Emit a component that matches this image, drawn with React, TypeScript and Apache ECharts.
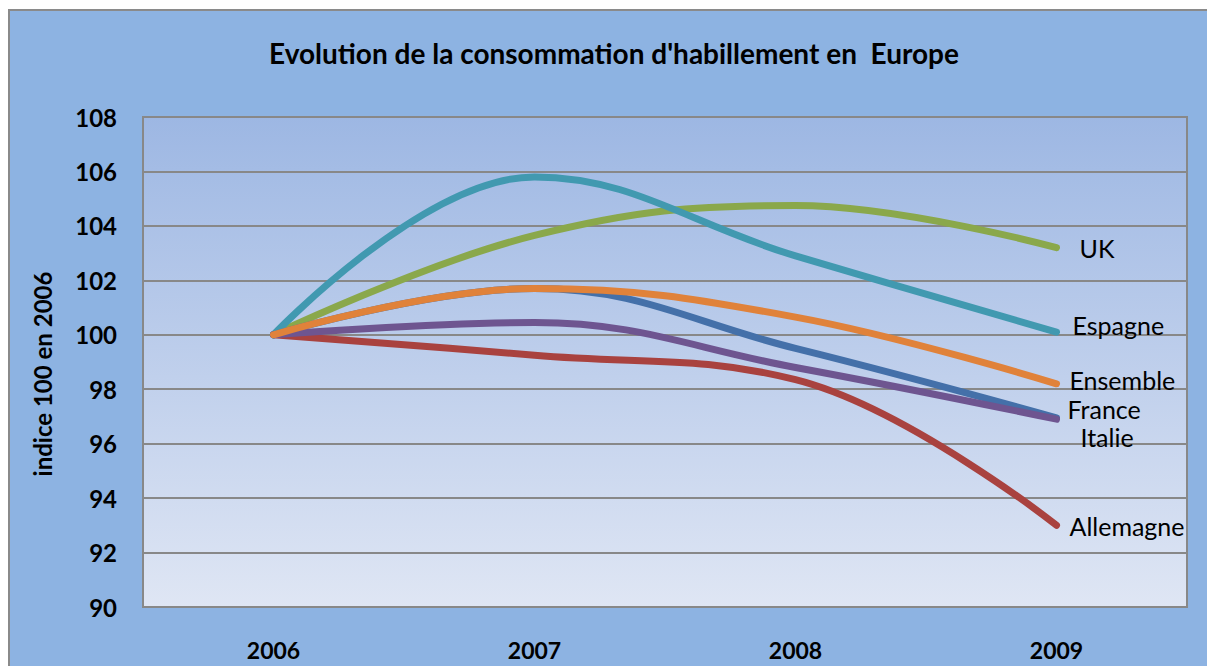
import React, { useEffect, useRef } from "react";
import * as echarts from "echarts";

const years = ["2006", "2007", "2008", "2009"];
const uk = [100, 103.65, 104.75, 103.2];
const espagne = [100, 105.8, 102.9, 100.1];
const ensemble = [100, 101.7, 100.65, 98.2];
const france = [100, 101.7, 99.5, 96.95];
const italie = [100, 100.45, 98.8, 96.9];
const allemagne = [100, 99.25, 98.35, 93.0];

const FONT = "Lato";

export default function App() {
  const ref = useRef<HTMLDivElement>(null);
  useEffect(() => {
    const chart = echarts.init(ref.current!, undefined, { renderer: "svg" });
    const mk = (name: string, data: number[], color: string, offset: [number, number], z: number) => ({
      name,
      type: "line",
      data,
      smooth: 0.4,
      symbol: "none",
      z,
      lineStyle: { color, width: 7, cap: "round", join: "round" },
      endLabel: {
        show: true,
        formatter: name,
        distance: 0,
        offset,
        color: "#000",
        fontFamily: FONT,
        fontSize: 25,
        lineHeight: 25,
        align: "left",
        verticalAlign: "middle",
      },
    });
    chart.setOption({
      animation: false,
      backgroundColor: "#ffffff",
      graphic: [
        {
          type: "rect",
          z: -10,
          shape: { x: 9, y: 10, width: 1220, height: 680 },
          style: { fill: "#8db3e2", stroke: "#8a8a8a", lineWidth: 2 },
          silent: true,
        },
        {
          type: "text",
          x: 42,
          y: 374,
          rotation: Math.PI / 2,
          style: {
            text: "indice 100 en 2006",
            fill: "#000",
            fontFamily: FONT,
            fontWeight: "bold",
            fontSize: 24,
            align: "center",
            verticalAlign: "middle",
          },
        },
      ],
      title: {
        text: "Evolution de la consommation d'habillement en  Europe",
        left: 609,
        top: 34,
        textAlign: "center",
        textStyle: { fontFamily: FONT, fontWeight: "bold", fontSize: 28, color: "#000" },
      },
      grid: {
        left: 143,
        top: 117,
        right: 20,
        bottom: 59,
        show: true,
        borderColor: "#888888",
        borderWidth: 2,
        backgroundColor: {
          type: "linear",
          x: 0,
          y: 0,
          x2: 0,
          y2: 1,
          colorStops: [
            { offset: 0, color: "#9db7e3" },
            { offset: 1, color: "#dfe6f4" },
          ],
        },
      },
      xAxis: {
        type: "category",
        data: years,
        boundaryGap: true,
        axisLine: { show: true, lineStyle: { color: "#888888", width: 2 } },
        axisTick: { show: false },
        axisLabel: { margin: 31, color: "#000", fontFamily: FONT, fontWeight: "bold", fontSize: 23 },
      },
      yAxis: {
        type: "value",
        min: 90,
        max: 108,
        interval: 2,
        axisLine: { show: true, lineStyle: { color: "#888888", width: 2 } },
        axisTick: { show: false },
        axisLabel: { margin: 26, color: "#000", fontFamily: FONT, fontWeight: "bold", fontSize: 24 },
        splitLine: { show: true, lineStyle: { color: "#888888", width: 2 } },
      },
      series: [
        mk("UK", uk, "#8aa84b", [23, 0], 3),
        mk("Espagne", espagne, "#4199b0", [16, -7], 4),
        mk("Ensemble", ensemble, "#e0823a", [13, -4], 7),
        mk("France", france, "#4470a9", [11, -9], 5),
        mk("Italie", italie, "#6e5590", [24, 18], 6),
        mk("Allemagne", allemagne, "#a9423f", [13, 1], 2),
      ],
    });
    return () => chart.dispose();
  }, []);
  return (
    <div
      ref={ref}
      style={{ position: "absolute", left: 0, top: 0, width: 1207, height: 666 }}
    />
  );
}
